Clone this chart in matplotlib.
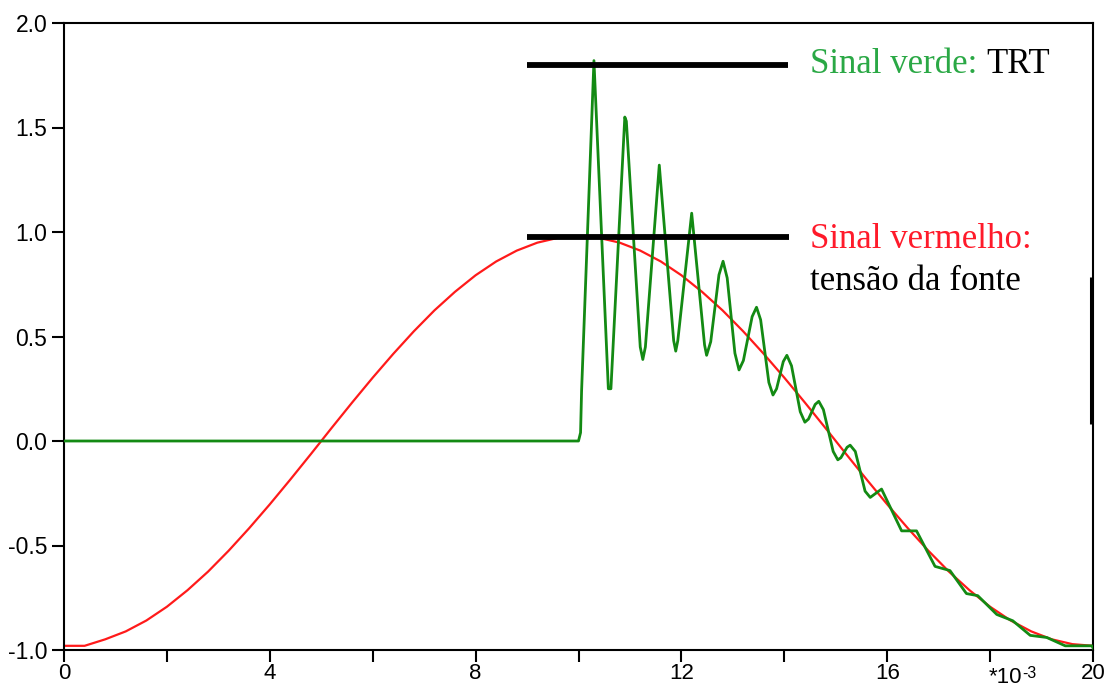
import matplotlib
matplotlib.use("Agg")
import matplotlib.pyplot as plt
from matplotlib.transforms import blended_transform_factory

# ---- data (time in ms, values in pu) ----
red_t = [0, 0.4, 0.8, 1.2, 1.6, 2.0, 2.4, 2.8, 3.2, 3.6, 4.0, 4.4, 4.8, 5.2, 5.6,
         6.0, 6.4, 6.8, 7.2, 7.6, 8.0, 8.4, 8.8, 9.2, 9.6, 10.0, 10.4, 10.8, 11.2,
         11.6, 12.0, 12.4, 12.8, 13.2, 13.6, 14.0, 14.4, 14.8, 15.2, 15.6, 16.0,
         16.4, 16.8, 17.2, 17.6, 18.0, 18.4, 18.8, 19.2, 19.6, 20.0]
red_v = [-0.98, -0.98, -0.949, -0.911, -0.859, -0.793, -0.714, -0.625, -0.525,
         -0.417, -0.303, -0.184, -0.062, 0.062, 0.184, 0.303, 0.417, 0.525, 0.625,
         0.714, 0.793, 0.859, 0.911, 0.949, 0.972, 0.98, 0.972, 0.949, 0.911,
         0.859, 0.793, 0.714, 0.625, 0.525, 0.417, 0.303, 0.184, 0.062, -0.062,
         -0.184, -0.303, -0.417, -0.525, -0.625, -0.714, -0.793, -0.859, -0.911,
         -0.949, -0.972, -0.98]

green_t = [0, 10.0, 10.04, 10.06, 10.30, 10.58, 10.63, 10.90, 10.93,
           11.20, 11.25, 11.30, 11.57, 11.85, 11.89, 11.93, 12.20, 12.45, 12.49,
           12.57, 12.65, 12.73, 12.81, 12.89, 12.965, 13.04, 13.12,
           13.205, 13.29, 13.375, 13.46, 13.54, 13.62, 13.70, 13.78,
           13.85, 13.915, 13.98, 14.05, 14.14, 14.225, 14.31, 14.40,
           14.47, 14.535, 14.60, 14.67, 14.76, 14.855, 14.95, 15.04,
           15.10, 15.16, 15.22, 15.28, 15.38, 15.475, 15.57, 15.67,
           15.89, 16.28, 16.57, 16.93, 17.22, 17.54, 17.76,
           18.13, 18.44, 18.78, 19.10, 19.46, 19.98, 20.0]
green_v = [0, 0, 0.04, 0.24, 1.82, 0.25, 0.25, 1.55, 1.53,
           0.45, 0.39, 0.45, 1.32, 0.48, 0.43, 0.48, 1.09, 0.46, 0.41,
           0.475, 0.635, 0.795, 0.86, 0.78, 0.60, 0.42, 0.34,
           0.385, 0.49, 0.595, 0.64, 0.58, 0.43, 0.28, 0.22,
           0.25, 0.315, 0.38, 0.41, 0.36, 0.25, 0.14, 0.09,
           0.105, 0.14, 0.175, 0.19, 0.15, 0.05, -0.05, -0.09,
           -0.08, -0.055, -0.03, -0.02, -0.05, -0.145, -0.24, -0.27,
           -0.23, -0.43, -0.43, -0.60, -0.62, -0.73, -0.74,
           -0.83, -0.86, -0.93, -0.94, -0.98, -0.98, -0.99]

level_high_t = [9.0, 14.07]
level_high = 1.80
level_low_t = [9.0, 14.1]
level_low = 0.975

xticks_major = [0, 4, 8, 12, 16, 18, 20]
xtick_labels = ["0", "4", "8", "12", "16", "", "20"]
xticks_minor = [2, 6, 10, 14]
yticks = [-1.0, -0.5, 0.0, 0.5, 1.0, 1.5, 2.0]
ytick_labels = ["-1.0", "-0.5", "0.0", "0.5", "1.0", "1.5", "2.0"]

plt.rcParams['axes.unicode_minus'] = False
sans = 'Liberation Sans'
serif = 'Liberation Serif'

W, H = 1115, 688
fig = plt.figure(figsize=(W/100, H/100), dpi=100)
ax = fig.add_axes([64/W, 1-650/H, (1093-64)/W, (650-23)/H])

ax.plot(red_t, red_v, color='#ff1a1a', lw=1.6, zorder=2)
ax.plot(green_t, green_v, color='#138a13', lw=2.0, zorder=3, solid_joinstyle='round')
ax.plot(level_high_t, [level_high]*2, color='black', lw=4.2, solid_capstyle='butt', zorder=4)
ax.plot(level_low_t, [level_low]*2, color='black', lw=4.2, solid_capstyle='butt', zorder=4)
ax.plot([19.96, 19.96], [0.08, 0.785], color='black', lw=2.2, solid_capstyle='butt',
        clip_on=False, zorder=5)

ax.set_xlim(0, 20)
ax.set_ylim(-1, 2)
ax.set_xticks(xticks_major)
ax.set_xticklabels(xtick_labels, fontfamily=sans, fontsize=16)
ax.set_xticks(xticks_minor, minor=True)
ax.set_yticks(yticks)
ax.set_yticklabels(ytick_labels, fontfamily=sans, fontsize=16.5)
ax.tick_params(axis='both', which='both', direction='out', length=8.5, width=1.5,
               colors='black')
ax.tick_params(axis='y', pad=3.5)
ax.tick_params(axis='x', which='both', pad=1.0)
for s in ax.spines.values():
    s.set_linewidth(1.5)

# exponent label under the 18 tick
bt = blended_transform_factory(ax.transData, ax.transAxes)
ax.text(17.98, -33/627, "*10", transform=bt, fontfamily=sans, fontsize=16,
        ha='left', va='baseline', clip_on=False)
ax.text(18.62, -28/627, "-3", transform=bt, fontfamily=sans, fontsize=11.5,
        ha='left', va='baseline', clip_on=False)

# annotations
t1 = fig.text(810/W, 1-73/H, "Sinal verde: ", color='#2aa845', fontsize=25,
              fontfamily=serif, ha='left', va='baseline')
fig.canvas.draw()
bb = t1.get_window_extent()
fig.text(bb.x1/W, 1-73/H, "TRT", color='black', fontsize=25,
         fontfamily=serif, ha='left', va='baseline')
fig.text(810/W, 1-248/H, "Sinal vermelho:", color='#ff1a2a', fontsize=25,
         fontfamily=serif, ha='left', va='baseline')
fig.text(810/W, 1-290/H, "tensão da fonte", color='black', fontsize=25,
         fontfamily=serif, ha='left', va='baseline')

fig.savefig("out.png", dpi=100)
